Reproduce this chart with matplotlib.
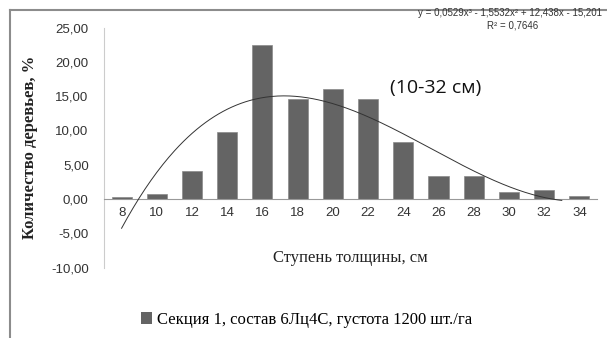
import numpy as np
import matplotlib
matplotlib.use("Agg")
import matplotlib.pyplot as plt
from matplotlib.lines import Line2D
from matplotlib.patches import Patch
from matplotlib.ticker import FuncFormatter

# распределение деревьев по ступеням толщины
ступени = ["8", "10", "12", "14", "16", "18", "20", "22", "24", "26", "28", "30", "32", "34"]
доля = [0.3, 0.7, 4.1, 9.8, 22.4, 14.6, 16.0, 14.6, 8.35, 3.35, 3.35, 1.05, 1.3, 0.4]

# полиномиальный тренд 3-й степени (x = номер ступени)
коэф_тренда = [0.0529, -1.5532, 12.438, -15.201]
x_тренда_конец = 13.5

fig = plt.figure(figsize=(6.07, 3.38), dpi=100)
ax = fig.add_axes([0.1713, 0.2083, 0.8122, 0.7103])

pos = np.arange(len(ступени))
ax.bar(pos, доля, width=0.57, color="#646464", edgecolor="#8a8a8a", linewidth=0.5, zorder=2)

xt = np.linspace(1, x_тренда_конец, 300)
yt = np.polyval(коэф_тренда, xt)
ax.plot(xt - 1, yt, color="#333333", linewidth=0.7, zorder=3)

ax.set_xlim(-0.5, len(ступени) - 0.5)
ax.set_ylim(-10, 25)
ax.set_yticks(np.arange(-10, 26, 5))
ax.yaxis.set_major_formatter(FuncFormatter(lambda v, _: f"{v:.2f}".replace(".", ",")))
ax.set_xticks(pos)
ax.set_xticklabels(ступени)

for s in ("top", "right"):
    ax.spines[s].set_visible(False)
ax.spines["bottom"].set_position(("data", 0))
ax.spines["bottom"].set_color("#999999")
ax.spines["left"].set_color("#cccccc")
ax.tick_params(axis="both", length=0, labelsize=9.5, colors="#333333")
ax.tick_params(axis="y", pad=11)
ax.tick_params(axis="x", pad=6)
for lbl in ax.get_xticklabels() + ax.get_yticklabels():
    lbl.set_family("Liberation Sans")

ax.set_ylabel("Количество деревьев, %", family="Liberation Serif", fontweight="bold",
              fontsize=12, color="#222222", labelpad=9)
fig.text(0.577, 0.237, "Ступень толщины, см", family="Liberation Serif", fontsize=12,
         color="#222222", ha="center", va="center")

fig.text(0.84, 0.962, "y = 0,0529x³ - 1,5532x² + 12,438x - 15,201", fontsize=7,
         family="Liberation Sans", color="#333333", ha="center", va="center")
fig.text(0.845, 0.924, "R² = 0,7646", fontsize=7, family="Liberation Sans",
         color="#333333", ha="center", va="center")
fig.text(0.718, 0.74, "(10-32 см)", fontsize=14, family="Open Sans",
         color="#111111", ha="center", va="center")

fig.legend(handles=[Patch(facecolor="#646464", label="Секция 1, состав 6Лц4С, густота 1200 шт./га")],
           loc="center", bbox_to_anchor=(0.505, 0.053), frameon=False, handlelength=0.7,
           handleheight=0.7, handletextpad=0.3,
           prop={"family": "Liberation Serif", "size": 12})

# рамка области диаграммы
fig.add_artist(Line2D([0.0165, 1.0], [0.970, 0.970], color="#8c8c8c", linewidth=1.5))
fig.add_artist(Line2D([0.0165, 0.0165], [0.0, 0.970], color="#8c8c8c", linewidth=1.5))

fig.savefig("out.png", dpi=100)
